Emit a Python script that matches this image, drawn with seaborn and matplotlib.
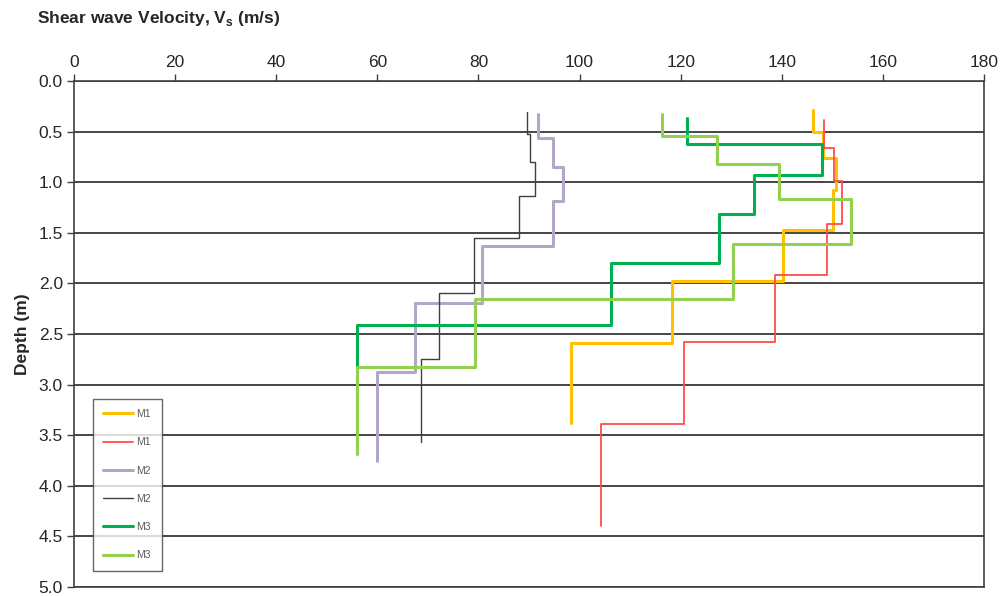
import matplotlib
matplotlib.use("Agg")
import matplotlib.pyplot as plt
import pandas as pd
import seaborn as sns

# layer boundaries (depth, m) and shear wave velocity of each layer (m/s)
m1a_depth = [0.29, 0.50, 0.76, 1.08, 1.47, 1.98, 2.59, 3.38]
m1a_vs = [146.1, 148.2, 150.7, 150.2, 140.2, 118.3, 98.3]

m1b_depth = [0.385, 0.66, 0.985, 1.41, 1.92, 2.58, 3.39, 4.40]
m1b_vs = [148.3, 150.4, 152.0, 148.9, 138.7, 120.7, 104.2]

m2a_depth = [0.33, 0.56, 0.85, 1.19, 1.63, 2.19, 2.88, 3.75]
m2a_vs = [91.8, 94.7, 96.8, 94.8, 80.8, 67.5, 59.9]

m2b_depth = [0.31, 0.52, 0.80, 1.14, 1.55, 2.09, 2.75, 3.57]
m2b_vs = [89.7, 90.2, 91.2, 88.1, 79.2, 72.2, 68.6]

m3a_depth = [0.37, 0.62, 0.93, 1.31, 1.80, 2.41, 2.82]
m3a_vs = [121.2, 147.9, 134.6, 127.6, 106.2, 55.9]

m3b_depth = [0.33, 0.54, 0.82, 1.17, 1.61, 2.15, 2.83, 3.69]
m3b_vs = [116.4, 127.1, 139.5, 153.7, 130.3, 79.3, 55.9]

labels = ["M1", "M1", "M2", "M2", "M3", "M3"]
colors = ["#FFC000", "#FF4B4B", "#B3A6C9", "#404040", "#00B050", "#92D050"]
widths = [2.2, 1.3, 2.2, 1.0, 2.2, 2.2]


def step_frame(depth, vs):
    # turn layers into a step profile
    v, d = [], []
    for i, val in enumerate(vs):
        v += [val, val]
        d += [depth[i], depth[i + 1]]
    return pd.DataFrame({"vs": v, "depth": d})


profiles = [(m1a_depth, m1a_vs), (m1b_depth, m1b_vs), (m2a_depth, m2a_vs),
            (m2b_depth, m2b_vs), (m3a_depth, m3a_vs), (m3b_depth, m3b_vs)]

sns.set_style("white")
plt.rcParams["font.family"] = ["Liberation Sans", "DejaVu Sans"]

fig = plt.figure(figsize=(10.05, 5.96), dpi=100)
ax = fig.add_axes([74 / 1005, 1 - 587 / 596, 910 / 1005, 506 / 596])

for (dep, vs), lab, col, lw in zip(profiles, labels, colors, widths):
    sns.lineplot(data=step_frame(dep, vs), x="vs", y="depth", sort=False,
                 estimator=None, color=col, lw=lw, label=lab, ax=ax)

ax.set_xlim(0, 180)
ax.set_ylim(5, 0)
ax.set_xticks(range(0, 181, 20))
ax.set_yticks([i * 0.5 for i in range(11)])
ax.set_yticklabels([f"{i * 0.5:.1f}" for i in range(11)])
ax.xaxis.tick_top()
ax.tick_params(axis="both", labelsize=12.5, length=5, width=1, color="#404040",
               direction="out", pad=3)
ax.tick_params(axis="x", top=True, bottom=False)
ax.tick_params(axis="y", left=True)
ax.yaxis.grid(True, color="#262626", lw=1.2)
ax.xaxis.grid(False)
for s in ax.spines.values():
    s.set_color("#404040")
    s.set_linewidth(1.2)
ax.set_xlabel("")
ax.set_ylabel("Depth (m)", fontsize=12.5, fontweight="bold", labelpad=6)

fig.text(37 / 1005, 1 - 18 / 596, r"Shear wave Velocity, V$_\mathregular{s}$ (m/s)",
         fontsize=12.5, fontweight="bold", va="center", ha="left")

leg = ax.legend(loc="lower left", bbox_to_anchor=(0.015, 0.022), fontsize=7.5,
                frameon=True, fancybox=False, edgecolor="#404040",
                handlelength=2.9, labelspacing=1.75, borderpad=1.0,
                handletextpad=0.3)
leg.get_frame().set_linewidth(1.0)
for t in leg.get_texts():
    t.set_color("#595959")

fig.savefig("out.png", dpi=100, facecolor="white")
